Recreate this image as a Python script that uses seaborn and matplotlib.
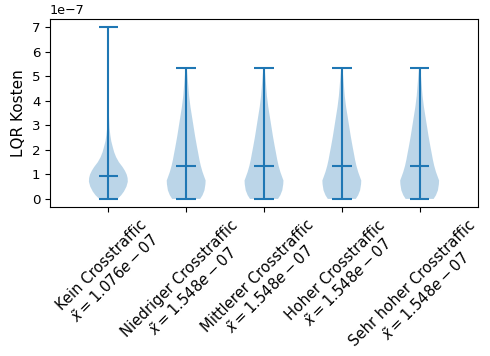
import numpy as np
import matplotlib
matplotlib.use("Agg")
import matplotlib.pyplot as plt
from matplotlib.ticker import MultipleLocator
import seaborn as sns

SCALE = 1e-7

categories = ["Kein Crosstraffic", "Niedriger Crosstraffic", "Mittlerer Crosstraffic",
              "Hoher Crosstraffic", "Sehr hoher Crosstraffic"]

# LQR cost density profiles (cost in units of 1e-7, relative density)
kein_coords = [0.0, 0.15, 0.3, 0.5, 0.7, 0.85, 1.0, 1.15, 1.3, 1.5, 1.7, 1.9, 2.1,
               2.35, 2.6, 2.9, 3.3, 3.8, 4.5, 5.5, 7.0]
kein_density = [0.47, 0.66, 0.80, 0.93, 1.0, 0.99, 0.94, 0.85, 0.73, 0.54, 0.40, 0.30,
                0.23, 0.15, 0.10, 0.06, 0.035, 0.02, 0.012, 0.006, 0.002]

cross_coords = [0.0, 0.15, 0.35, 0.6, 0.75, 0.9, 1.1, 1.35, 1.6, 1.9, 2.15, 2.55, 2.95,
                3.35, 3.75, 4.2, 4.6, 5.0, 5.33]
cross_density = [0.72, 0.84, 0.94, 0.99, 1.0, 0.93, 0.84, 0.75, 0.68, 0.61, 0.55, 0.46,
                 0.38, 0.30, 0.22, 0.15, 0.11, 0.07, 0.03]

# summary statistics per scenario (units of 1e-7)
minima = [0.0, 0.0, 0.0, 0.0, 0.0]
maxima = [7.0, 5.33, 5.33, 5.33, 5.33]
medians = [0.95, 1.35, 1.35, 1.35, 1.35]
means = [1.076, 1.548, 1.548, 1.548, 1.548]

profiles = [(kein_coords, kein_density)] + [(cross_coords, cross_density)] * 4

color = sns.color_palette("tab10")[0]

vpstats = []
for (coords, dens), lo, hi, med, mu in zip(profiles, minima, maxima, medians, means):
    vpstats.append({
        "coords": np.array(coords) * SCALE,
        "vals": np.array(dens),
        "mean": mu * SCALE,
        "median": med * SCALE,
        "min": lo * SCALE,
        "max": hi * SCALE,
    })

fig = plt.figure(figsize=(4.9, 3.56), dpi=100)
ax = fig.add_axes([50 / 490, 1 - 207.5 / 356, 428 / 490, 189 / 356])

positions = np.arange(1, len(categories) + 1)
parts = ax.violin(vpstats, positions=positions, widths=0.5,
                  showmeans=False, showextrema=True, showmedians=True)
for body in parts["bodies"]:
    body.set_facecolor(color)
    body.set_edgecolor("none")
    body.set_linewidth(0)
    body.set_alpha(0.3)
for key in ("cbars", "cmins", "cmaxes", "cmedians"):
    parts[key].set_color(color)
    parts[key].set_linewidth(1.5)

labels = [f"{name}\n$\\tilde{{x}} = {mu * SCALE:.3e}$" for name, mu in zip(categories, means)]
ax.set_xticks(positions)
ax.set_xticklabels(labels, rotation=45, fontsize=10.6)
ax.set_xlim(0.25, 5.75)
ax.yaxis.set_major_locator(MultipleLocator(1 * SCALE))
ax.set_ylabel("LQR Kosten", fontsize=11)
ax.tick_params(axis="y", labelsize=9.6)
ax.yaxis.get_offset_text().set_fontsize(9.2)

fig.savefig("out.png", dpi=100)
